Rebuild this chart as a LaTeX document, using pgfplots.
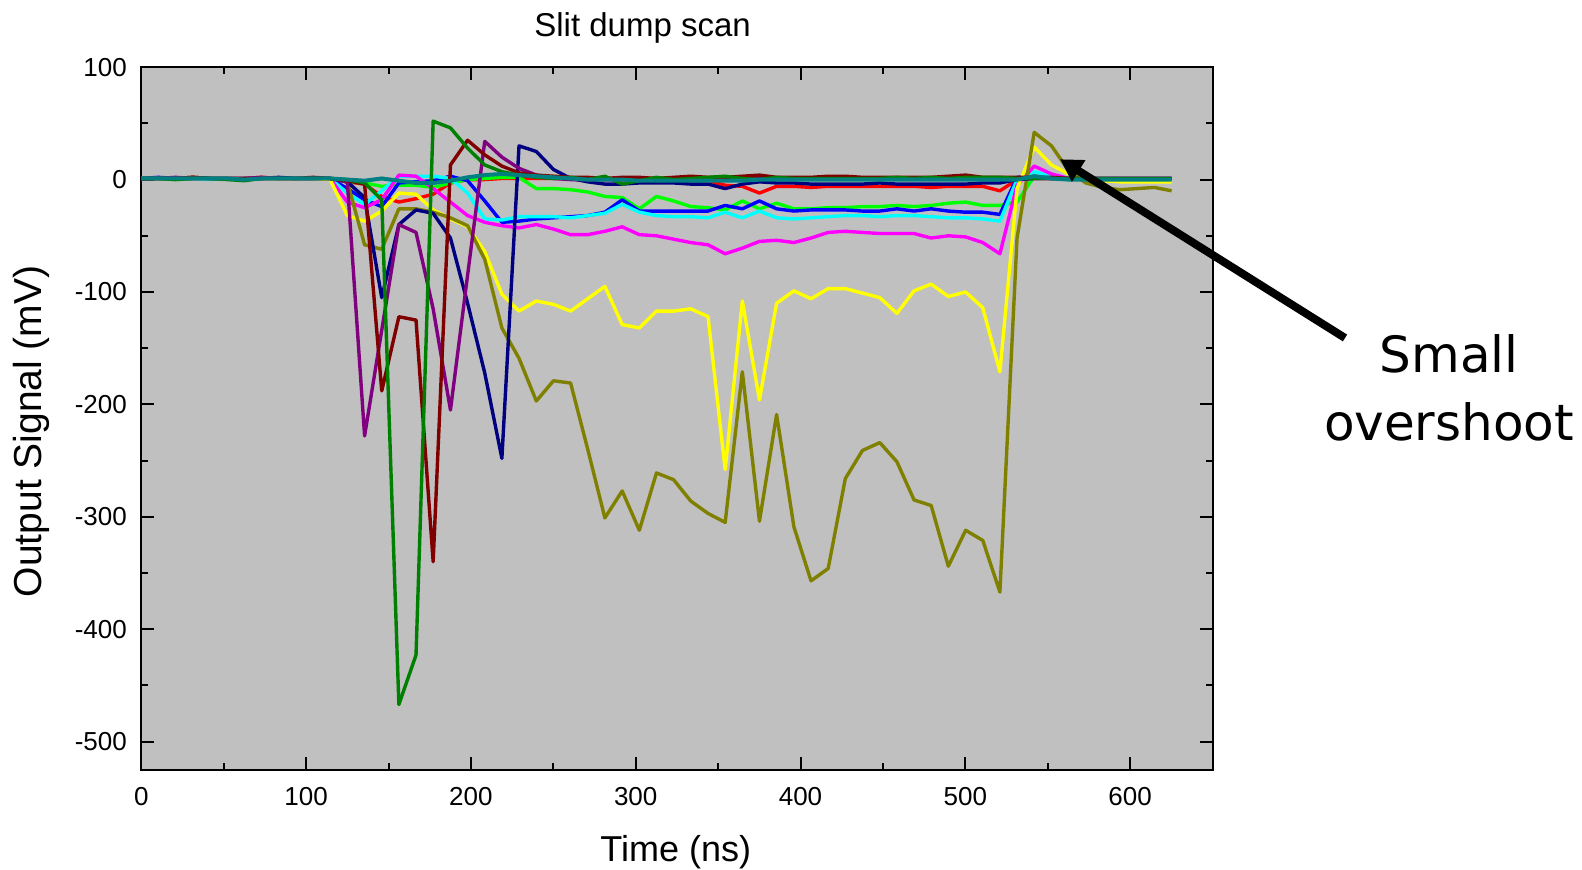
\documentclass[border=0pt]{standalone}
\usepackage{fontspec}
\setmainfont{Liberation Sans}
\newfontfamily\annfont{DejaVu Sans}
\usepackage{pgfplots}
\pgfplotsset{compat=1.18}
\usepackage{pgfplotstable}
\usetikzlibrary{arrows.meta}

\definecolor{silverbg}{RGB}{192,192,192}
\definecolor{cRed}{RGB}{255,0,0}
\definecolor{cLime}{RGB}{0,255,0}
\definecolor{cBlue}{RGB}{0,0,255}
\definecolor{cCyan}{RGB}{0,255,255}
\definecolor{cMag}{RGB}{255,0,255}
\definecolor{cYel}{RGB}{255,255,0}
\definecolor{cOlive}{RGB}{128,128,0}
\definecolor{cNavy}{RGB}{0,0,128}
\definecolor{cPurple}{RGB}{128,0,128}
\definecolor{cMaroon}{RGB}{128,0,0}
\definecolor{cDkGreen}{RGB}{0,128,0}
\definecolor{cTeal}{RGB}{0,128,128}

\pgfplotstableread{
t     red  lime blue cyan mag  yel  olive navy purple maroon dkgreen teal
0.0   1    1    1    1    1    1    1     1    1      1      1       1
10.4  1    1    2    1    1    1    1     1    1      1      1       1
20.8  1    0    1    1    1    1    1     1    2      1      0       1
31.3  2    1    1    1    1    2    1     2    1      2      1       1
41.7  1    1    1    0    1    1    1     1    1      1      1       1
52.1  1    1    1    1    1    1    1     1    1      1      0       1
62.5  1    0    1    1    1    1    1     1    1      1      -1      0
72.9  2    1    1    1    1    1    1     1    2      1      1       1
83.4  1    1    1    1    1    1    1     2    1      1      1       1
93.8  1    1    1    1    1    1    1     1    1      1      1       1
104.2 1    1    1    1    1    1    1     1    1      2      1       1
114.6 1    1    1    1    1    0    1     1    1      1      1       1
125.0 -2   -2   -8   -12  -20  -32  -2    -2   -2     -1     0       0
135.5 -4   -3   -18  -22  -25  -37  -58   -16  -228   -4     -3      -1
145.9 -15  -6   -24  -10  -18  -28  -62   -105 -134   -188   -18     1
156.3 -20  -5   -3   3    4    -12  -26   -40  -40    -122   -467    -1
166.7 -17  -5   -2   3    3    -13  -26   -27  -47    -125   -423    -3
177.1 -13  -7   -1   3    -8   -27  -29   -30  -115   -340   52      -3
187.6 -3   -3   3    1    -20  -35  -34   -52  -205   13     46      -1
198.0 0    0    -1   -12  -32  -42  -41   -110 -85    35     28      2
208.4 0    1    -19  -35  -38  -64  -71   -172 34     22     13      4
218.8 1    2    -38  -36  -41  -102 -132  -248 20     12     7       5
229.2 1    2    -37  -33  -43  -117 -159  30   10     6      4       4
239.7 1    -8   -35  -33  -40  -108 -197  25   4      4      2       3
250.1 1    -8   -34  -33  -44  -111 -179  9    1      3      1       2
260.5 1    -9   -33  -34  -49  -117 -181  1    0      2      2       1
270.9 1    -11  -32  -32  -49  -106 -240  -2   0      2      0       0
281.3 1    -15  -29  -30  -46  -95  -301  -4   0      1      3       0
291.8 0    -16  -18  -22  -42  -129 -277  -4   0      2      -4      0
302.2 0    -26  -28  -29  -49  -132 -312  -3   1      2      -1      -1
312.6 -1   -15  -28  -32  -50  -117 -261  -3   1      1      2       -1
323.0 -1   -19  -28  -33  -53  -117 -267  -3   1      2      0       -1
333.4 -1   -24  -28  -33  -56  -115 -286  -4   1      3      1       -1
343.9 -1   -25  -28  -34  -58  -122 -297  -4   1      2      2       -1
354.3 -5   -27  -23  -29  -66  -258 -305  -8   1      2      3       -1
364.7 -6   -19  -26  -34  -61  -108 -171  -4   1      3      1       -1
375.1 -12  -26  -19  -28  -55  -196 -304  -2   1      4      0       0
385.5 -6   -21  -26  -34  -54  -110 -209  -3   1      2      2       0
396.0 -6   -26  -28  -35  -56  -99  -309  -3   1      2      1       0
406.4 -7   -26  -27  -34  -52  -106 -357  -4   1      2      1       0
416.8 -6   -25  -27  -33  -47  -97  -346  -4   1      3      1       0
427.2 -6   -25  -27  -32  -46  -97  -266  -4   1      3      1       0
437.6 -6   -24  -28  -32  -47  -101 -241  -4   1      2      1       0
448.1 -6   -24  -28  -33  -48  -105 -234  -3   1      2      1       0
458.5 -6   -23  -26  -32  -48  -119 -251  -4   1      2      2       0
468.9 -6   -24  -28  -32  -48  -99  -285  -4   1      2      1       0
479.3 -7   -23  -26  -33  -52  -93  -290  -4   1      2      2       0
489.7 -6   -21  -28  -34  -50  -104 -344  -4   1      3      1       0
500.2 -6   -20  -29  -34  -51  -100 -312  -4   1      4      2       0
510.6 -6   -23  -29  -35  -56  -114 -321  -3   1      2      2       0
521.0 -10  -23  -31  -37  -66  -171 -367  -3   1      2      2       0
531.4 0    -20  2    0    -5   -8   -52   0    1      2      1       0
541.8 1    3    3    7    12   29   42    1    1      2      1       3
552.3 1    1    1    3    5    13   30    1    1      2      1       1
562.7 1    1    1    1    1    5    8     1    1      1      1       0
573.1 1    1    1    1    1    0    -3    1    1      1      1       0
583.5 1    1    1    1    1    -1   -7    1    1      1      1       0
593.9 1    1    1    1    1    -2   -9    1    1      1      1       0
604.4 1    1    1    1    1    -2   -8    1    1      1      1       0
614.8 1    1    1    1    1    -2   -7    1    1      1      1       0
625.2 1    1    1    1    1    -2   -10   1    1      1      1       0
}\datatable

\begin{document}
\begin{tikzpicture}
\begin{axis}[
  at={(0,0)}, anchor=south west,
  scale only axis, width=535.6pt, height=351.25pt,
  xmin=0, xmax=650, ymin=-525, ymax=100,
  xtick={0,100,...,600}, ytick={-500,-400,...,100},
  minor x tick num=1, minor y tick num=1,
  tick align=inside,
  major tick length=6.5pt, minor tick length=3.5pt,
  every tick/.style={black, line width=1pt},
  axis line style={black, line width=1pt},
  axis background/.style={fill=silverbg},
  tick label style={font=\fontsize{13}{15}\selectfont},
  /pgf/number format/assume math mode=true,
  scaled ticks=false,
  yticklabel style={xshift=-3.7pt},
  xticklabel style={yshift=-5.4pt},
  clip=false,
  no markers,
  every axis plot/.append style={line width=1.7pt, line join=round},
]
\addplot[cRed]     table[x=t,y=red]{\datatable};
\addplot[cLime]    table[x=t,y=lime]{\datatable};
\addplot[cBlue]    table[x=t,y=blue]{\datatable};
\addplot[cCyan]    table[x=t,y=cyan]{\datatable};
\addplot[cMag]     table[x=t,y=mag]{\datatable};
\addplot[cYel]     table[x=t,y=yel]{\datatable};
\addplot[cOlive]   table[x=t,y=olive]{\datatable};
\addplot[cNavy]    table[x=t,y=navy]{\datatable};
\addplot[cPurple]  table[x=t,y=purple]{\datatable};
\addplot[cMaroon]  table[x=t,y=maroon]{\datatable};
\addplot[cDkGreen] table[x=t,y=dkgreen]{\datatable};
\addplot[cTeal, line width=2pt] table[x=t,y=teal]{\datatable};

\node[font=\fontsize{16.5}{19}\selectfont] at (rel axis cs:0.468,1.0565) {Slit dump scan};
\node[font=\fontsize{18}{21}\selectfont] at (rel axis cs:0.499,-0.1168) {Time (ns)};
\node[font=\fontsize{19.5}{22}\selectfont, rotate=90] at (rel axis cs:-0.1027,0.4817) {Output Signal (mV)};

\draw[black, line width=4pt, -{Triangle[length=11pt,width=12pt]}] (axis cs:730.4,-140.9) -- (axis cs:557.5,18.1);
\node[font=\annfont\fontsize{25}{30}\selectfont, anchor=base] at (rel axis cs:1.2208,0.5647) {Small};
\node[font=\annfont\fontsize{25}{30}\selectfont, anchor=base] at (rel axis cs:1.2208,0.4679) {overshoot};
\end{axis}
\pgfresetboundingbox
\path[use as bounding box] (-70.65pt,-50.15pt) rectangle (720.35pt,384.85pt);
\end{tikzpicture}
\end{document}
